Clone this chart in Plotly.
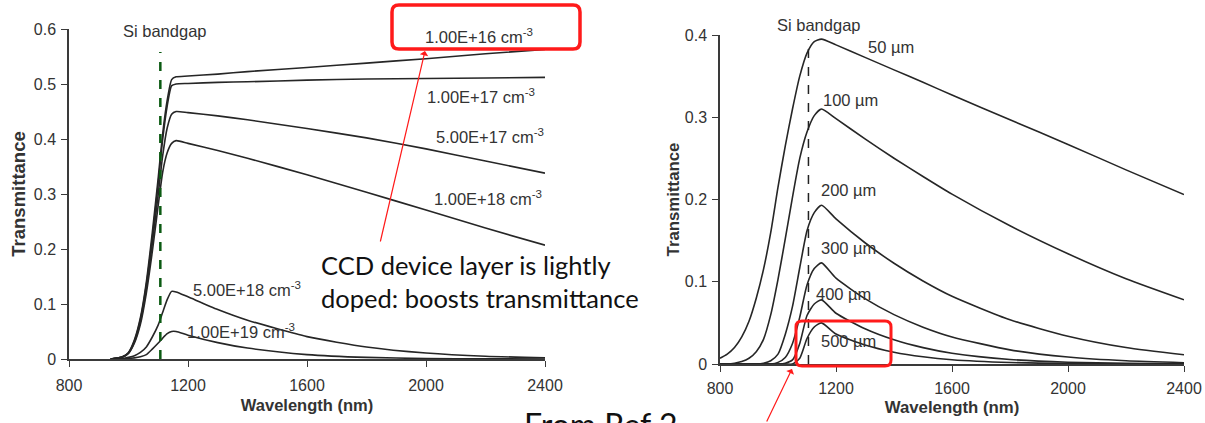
import plotly.graph_objects as go

# ---------------- data ----------------
# Left panel: transmittance vs wavelength for several doping levels
wl_dop = [940, 980, 1000, 1020, 1040, 1060, 1080, 1100, 1115, 1130, 1145, 1160,
          1200, 1300, 1400, 1600, 1800, 2000, 2200, 2400]
t_1e16 = [0.0, 0.004, 0.012, 0.035, 0.075, 0.14, 0.23, 0.33, 0.41, 0.47, 0.508, 0.513,
          0.5145, 0.518, 0.5225, 0.530, 0.538, 0.546, 0.555, 0.563]
t_1e17 = [0.0, 0.004, 0.011, 0.033, 0.072, 0.135, 0.22, 0.32, 0.40, 0.46, 0.497, 0.500,
          0.501, 0.503, 0.504, 0.507, 0.509, 0.510, 0.511, 0.512]
t_5e17 = [0.0, 0.004, 0.011, 0.031, 0.068, 0.128, 0.21, 0.30, 0.37, 0.42, 0.445, 0.450,
          0.448, 0.442, 0.435, 0.419, 0.402, 0.382, 0.360, 0.338]
t_1e18 = [0.0, 0.003, 0.010, 0.029, 0.063, 0.12, 0.195, 0.28, 0.34, 0.375, 0.392, 0.397,
          0.392, 0.379, 0.365, 0.335, 0.303, 0.271, 0.238, 0.207]
t_5e18 = [0.0, 0.001, 0.003, 0.006, 0.012, 0.022, 0.040, 0.062, 0.085, 0.108, 0.123, 0.122,
          0.113, 0.090, 0.0705, 0.0407, 0.0219, 0.0109, 0.005, 0.0022]
t_1e19 = [0.0, 0.0, 0.001, 0.002, 0.004, 0.008, 0.018, 0.029, 0.038, 0.046, 0.050, 0.050,
          0.0433, 0.0298, 0.0199, 0.008, 0.0029, 0.0009, 0.0003, 0.0001]
doping_labels = ["1.00E+16 cm<sup>-3</sup>", "1.00E+17 cm<sup>-3</sup>",
                 "5.00E+17 cm<sup>-3</sup>", "1.00E+18 cm<sup>-3</sup>",
                 "5.00E+18 cm<sup>-3</sup>", "1.00E+19 cm<sup>-3</sup>"]
doping_label_x = [2178, 2185, 2215, 2208, 1398, 1378]
doping_label_y = [0.588, 0.478, 0.406, 0.293, 0.127, 0.051]

# Right panel: transmittance vs wavelength for several wafer thicknesses
wl_thk = [800, 825, 850, 875, 900, 925, 950, 975, 1000, 1025, 1050, 1075, 1100, 1125, 1150,
          1200, 1300, 1400, 1500, 1600, 1800, 2000, 2200, 2400]
t_50 = [0.007, 0.012, 0.02, 0.033, 0.052, 0.08, 0.115, 0.16, 0.215, 0.265, 0.31, 0.35,
        0.378, 0.392, 0.395,
        0.388, 0.3728, 0.3576, 0.3425, 0.327, 0.297, 0.267, 0.236, 0.206]
t_100 = [0.0, 0.0, 0.001, 0.003, 0.007, 0.015, 0.03, 0.06, 0.103, 0.152, 0.203, 0.25,
         0.282, 0.302, 0.31,
         0.2983, 0.2736, 0.2502, 0.228, 0.2065, 0.168, 0.134, 0.1036, 0.078]
t_200 = [0.0, 0.0, 0.0, 0.0, 0.0, 0.0, 0.001, 0.004, 0.012, 0.036, 0.07, 0.117,
         0.162, 0.184, 0.193,
         0.1764, 0.1474, 0.1225, 0.101, 0.0824, 0.0538, 0.0338, 0.020, 0.0112]
t_300 = [0.0, 0.0, 0.0, 0.0, 0.0, 0.0, 0.0, 0.0, 0.002, 0.008, 0.025, 0.057,
         0.096, 0.116, 0.123,
         0.1043, 0.0794, 0.060, 0.0448, 0.0329, 0.0172, 0.0085, 0.0039, 0.0016]
t_400 = [0.0, 0.0, 0.0, 0.0, 0.0, 0.0, 0.0, 0.0, 0.0, 0.001, 0.005, 0.025,
         0.059, 0.073, 0.078,
         0.0617, 0.0428, 0.0294, 0.0199, 0.0131, 0.0055, 0.0021, 0.0008, 0.0002]
t_500 = [0.0, 0.0, 0.0, 0.0, 0.0, 0.0, 0.0, 0.0, 0.0, 0.0, 0.0, 0.007,
         0.031, 0.045, 0.050,
         0.0365, 0.0231, 0.0144, 0.0088, 0.0052, 0.0018, 0.0005, 0.0001, 0.0]
thickness_labels = ["50 µm", "100 µm", "200 µm", "300 µm", "400 µm", "500 µm"]
thickness_label_x = [1303, 1149, 1143, 1143, 1125, 1143]
thickness_label_y = [0.385, 0.321, 0.212, 0.141, 0.085, 0.028]

x_ticks = [800, 1200, 1600, 2000, 2400]
bandgap_left_nm = 1107
bandgap_right_nm = 1105

# ---------------- figure ----------------
W, H = 1205, 423
def px(xp):
    return xp / W
def py(yp):
    return 1 - yp / H

def rounded_rect(x0, y0, x1, y1, r):
    # path in paper coordinates from pixel corners (y measured from top)
    X = lambda v: f"{px(v):.5f}"
    Y = lambda v: f"{py(v):.5f}"
    return (f"M {X(x0 + r)},{Y(y0)} L {X(x1 - r)},{Y(y0)} Q {X(x1)},{Y(y0)} {X(x1)},{Y(y0 + r)} "
            f"L {X(x1)},{Y(y1 - r)} Q {X(x1)},{Y(y1)} {X(x1 - r)},{Y(y1)} "
            f"L {X(x0 + r)},{Y(y1)} Q {X(x0)},{Y(y1)} {X(x0)},{Y(y1 - r)} "
            f"L {X(x0)},{Y(y0 + r)} Q {X(x0)},{Y(y0)} {X(x0 + r)},{Y(y0)} Z")

LINE = dict(color="#262626", width=1.6, shape="spline", smoothing=0.6)
fig = go.Figure()
for ys in [t_1e16, t_1e17, t_5e17, t_1e18, t_5e18, t_1e19]:
    fig.add_trace(go.Scatter(x=wl_dop, y=ys, mode="lines", line=LINE,
                             xaxis="x", yaxis="y", showlegend=False, hoverinfo="skip"))
for ys in [t_50, t_100, t_200, t_300, t_400, t_500]:
    fig.add_trace(go.Scatter(x=wl_thk, y=ys, mode="lines", line=LINE,
                             xaxis="x2", yaxis="y2", showlegend=False, hoverinfo="skip"))

SANS = "Liberation Sans, Arial, sans-serif"
TICKFONT = dict(family=SANS, size=16, color="#333333")
def title_font(size):
    return dict(family=SANS, size=size, color="#333333", weight="bold")

axis_common = dict(showgrid=False, zeroline=False, showline=True, linecolor="#3a3a3a",
                   linewidth=1.5, ticks="outside", ticklen=6, tickwidth=1.2,
                   tickcolor="#3a3a3a", tickfont=TICKFONT, automargin=False)

fig.update_layout(
    width=W, height=H, margin=dict(l=0, r=0, t=0, b=0),
    paper_bgcolor="white", plot_bgcolor="white",
    xaxis=dict(domain=[px(69), px(545)], range=[800, 2400], tickvals=x_ticks,
               ticklabelstandoff=5, anchor="y",
               title=dict(text="Wavelength (nm)", font=title_font(16.5), standoff=6),
               **axis_common),
    yaxis=dict(domain=[1 - 359 / H, 1 - 29 / H], range=[0, 0.6], dtick=0.1,
               ticklabelstandoff=2, anchor="x",
               title=dict(text="Transmittance", font=title_font(18.5), standoff=3),
               **axis_common),
    xaxis2=dict(domain=[px(720), px(1184)], range=[800, 2400], tickvals=x_ticks,
                ticklabelstandoff=3, anchor="y2",
                title=dict(text="Wavelength (nm)", font=title_font(16.8), standoff=5),
                **axis_common),
    yaxis2=dict(domain=[1 - 364 / H, 1 - 35 / H], range=[0, 0.4], dtick=0.1,
                ticklabelstandoff=2, anchor="x2",
                title=dict(text="Transmittance", font=title_font(16.8), standoff=1),
                **axis_common),
)

# bandgap markers
fig.add_shape(type="line", xref="x", yref="y", x0=bandgap_left_nm, x1=bandgap_left_nm,
              y0=0, y1=0.558, line=dict(color="#0b5a12", width=2.5, dash="dash"))
fig.add_shape(type="line", xref="x2", yref="y2", x0=bandgap_right_nm, x1=bandgap_right_nm,
              y0=0, y1=0.395, line=dict(color="#222222", width=1.5, dash="dash"))

LABELFONT = dict(family=SANS, size=16.5, color="#333333")
fig.add_annotation(xref="x", yref="y", x=1123, y=0.596, text="Si bandgap",
                   showarrow=False, font=LABELFONT)
# right-hand label sits above the plotting area, so it is placed on the page
fig.add_annotation(xref="paper", yref="paper", x=px(819), y=py(25), text="Si bandgap",
                   xanchor="center", yanchor="middle", showarrow=False, font=LABELFONT)

for t, x, y in zip(doping_labels, doping_label_x, doping_label_y):
    fig.add_annotation(xref="x", yref="y", x=x, y=y, text=t, showarrow=False,
                       font=LABELFONT)
for t, x, y in zip(thickness_labels, thickness_label_x, thickness_label_y):
    fig.add_annotation(xref="x2", yref="y2", x=x, y=y, text=t, showarrow=False,
                       xanchor="left", font=LABELFONT)

# highlight boxes
fig.add_shape(type="path", xref="paper", yref="paper", path=rounded_rect(392, 5, 580, 49, 7),
              line=dict(color="#ff1a1a", width=3.5))
fig.add_shape(type="path", xref="paper", yref="paper", path=rounded_rect(796, 321, 891, 366, 6),
              line=dict(color="#ff1a1a", width=3))

# red pointers
fig.add_annotation(xref="paper", yref="paper", x=px(425), y=py(51), ax=-45, ay=192,
                   axref="pixel", ayref="pixel", text="", showarrow=True,
                   arrowhead=1, arrowsize=1.2, arrowwidth=1.2, arrowcolor="#ff1a1a")
fig.add_annotation(xref="paper", yref="paper", x=px(792), y=py(369), ax=-26, ay=62,
                   axref="pixel", ayref="pixel", text="", showarrow=True,
                   arrowhead=1, arrowsize=1.2, arrowwidth=1.2, arrowcolor="#ff1a1a")

NOTEFONT = dict(family="Lato, Open Sans, sans-serif", size=25.5, color="#111111")
fig.add_annotation(xref="paper", yref="paper", x=px(319), y=py(248), xanchor="left",
                   yanchor="top", align="left", showarrow=False, font=NOTEFONT,
                   text="CCD device layer is lightly<br>doped: boosts transmittance")
fig.add_annotation(xref="paper", yref="paper", x=px(522), y=py(403), xanchor="left",
                   yanchor="top", align="left", showarrow=False,
                   font=dict(family="Lato, Open Sans, sans-serif", size=32, color="#111111"),
                   text="From Ref 2")

fig.write_html("out.html")
